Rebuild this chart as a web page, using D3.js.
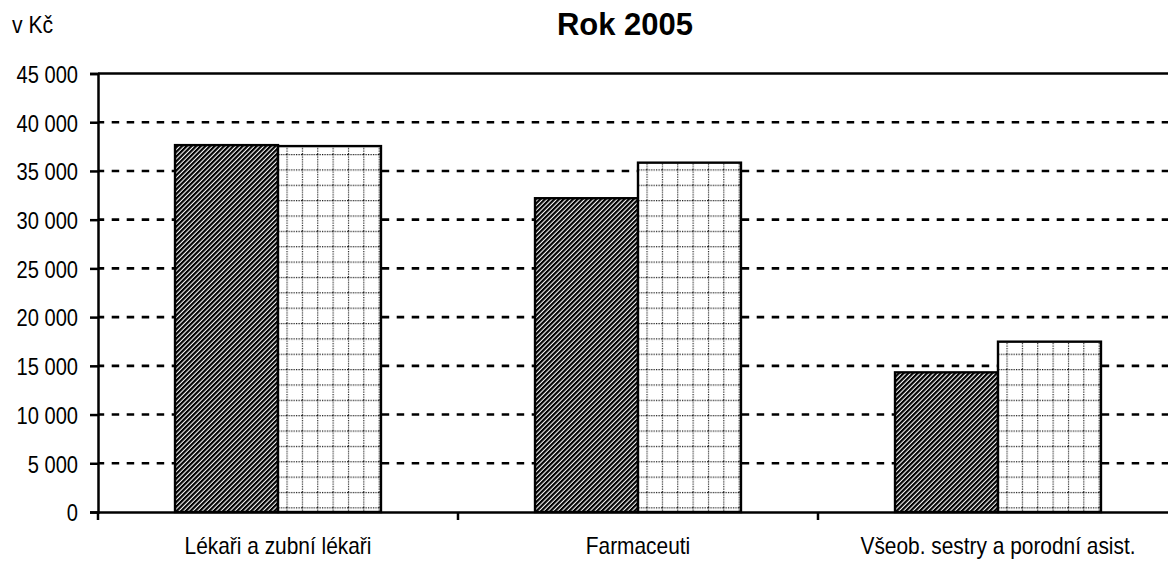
<!DOCTYPE html>
<html>
<head>
<meta charset="utf-8">
<script src="https://cdn.jsdelivr.net/npm/d3@7"></script>
<style>
  body { margin: 0; background: #fff; }
  text { fill: #000; }
</style>
</head>
<body>
<svg id="chart"></svg>
<script>
// data
var categories = ["Lékaři a zubní lékaři", "Farmaceuti", "Všeob. sestry a porodní asist."];
var seriesNames = ["Řada 1", "Řada 2"];
var series1 = [37650, 32200, 14330];
var series2 = [37550, 35850, 17480];
var yTicks = [0, 5000, 10000, 15000, 20000, 25000, 30000, 35000, 40000, 45000];

var width = 1168;
var height = 562;
var plotLeft = 98, plotRight = 1178, plotTop = 73.5, plotBottom = 512;

var svg = d3.select("#chart").attr("width", width).attr("height", height);

var defs = svg.append("defs");

// diagonal hatch for first series
var hatch = defs.append("pattern")
    .attr("id", "hatch")
    .attr("patternUnits", "userSpaceOnUse")
    .attr("width", 3.3)
    .attr("height", 10)
    .attr("patternTransform", "rotate(45)");
hatch.append("rect").attr("width", 3.3).attr("height", 10).attr("fill", "#fff");
hatch.append("rect").attr("width", 2.2).attr("height", 10).attr("fill", "#000");

// dotted grid for second series
var cell = 15.36;
var grid = defs.append("pattern")
    .attr("id", "grid")
    .attr("patternUnits", "userSpaceOnUse")
    .attr("x", 296 % cell)
    .attr("y", 154 % cell)
    .attr("width", cell)
    .attr("height", cell);
grid.append("rect").attr("width", cell).attr("height", cell).attr("fill", "#fff");
grid.append("line")
    .attr("x1", 0.5).attr("y1", 0).attr("x2", 0.5).attr("y2", cell)
    .style("stroke", "#111").style("stroke-width", 1.2).style("stroke-dasharray", "1.2,1.2");
grid.append("line")
    .attr("x1", 0).attr("y1", 0.5).attr("x2", cell).attr("y2", 0.5)
    .style("stroke", "#111").style("stroke-width", 1.2).style("stroke-dasharray", "1.2,1.2");

var x0 = d3.scaleBand().domain(categories).range([plotLeft, plotRight]).padding(0);
var x1 = d3.scaleBand().domain(seriesNames).range([0, x0.bandwidth()]).paddingInner(0).paddingOuter(0.748);
var y = d3.scaleLinear().domain([0, 45000]).range([plotBottom, plotTop]);

var fmt = d3.formatLocale({ decimal: ",", thousands: " ", grouping: [3], currency: ["", " Kč"] }).format(",d");

var font = "'Liberation Sans', Arial, sans-serif";

// squeeze text horizontally, the original uses a narrow face
function narrow(sel, k) {
    sel.each(function () {
        var w = this.getComputedTextLength();
        d3.select(this)
            .attr("textLength", w * k)
            .attr("lengthAdjust", "spacingAndGlyphs");
    });
}

// gridlines
svg.append("g")
    .selectAll("line")
    .data(yTicks.filter(function (d) { return d > 0 && d < 45000; }))
    .enter().append("line")
    .attr("x1", plotLeft).attr("x2", plotRight)
    .attr("y1", function (d) { return y(d); })
    .attr("y2", function (d) { return y(d); })
    .style("stroke", "#000")
    .style("stroke-width", 2.6)
    .style("stroke-dasharray", "7.5,7.5")
    .style("stroke-dashoffset", 1.3);

// top border
svg.append("line")
    .attr("x1", plotLeft).attr("x2", plotRight)
    .attr("y1", y(45000)).attr("y2", y(45000))
    .style("stroke", "#000").style("stroke-width", 2.6);

// bars
var rows = categories.map(function (c, i) {
    return { cat: c, values: [series1[i], series2[i]] };
});
var groups = svg.append("g").selectAll("g")
    .data(rows)
    .enter().append("g")
    .attr("transform", function (d) { return "translate(" + x0(d.cat) + ",0)"; });

groups.selectAll("rect")
    .data(function (d) {
        return d.values.map(function (v, j) { return { name: seriesNames[j], value: v, j: j }; });
    })
    .enter().append("rect")
    .attr("x", function (d) { return x1(d.name); })
    .attr("width", x1.bandwidth())
    .attr("y", function (d) { return y(d.value); })
    .attr("height", function (d) { return y(0) - y(d.value); })
    .attr("fill", function (d) { return d.j === 0 ? "url(#hatch)" : "url(#grid)"; })
    .style("stroke", "#000")
    .style("stroke-width", 2.4);

// y axis
var yAxis = svg.append("g")
    .attr("transform", "translate(" + plotLeft + ",0)")
    .call(d3.axisLeft(y).tickValues(yTicks).tickSize(8).tickPadding(12).tickFormat(fmt));
yAxis.select(".domain").style("stroke", "#000").style("stroke-width", 2.5);
yAxis.selectAll(".tick line").style("stroke", "#000").style("stroke-width", 2.5);
yAxis.selectAll(".tick text")
    .style("font-family", font)
    .style("font-size", "24.5px")
    .attr("dy", "0.36em")
    .call(narrow, 0.82);

// x axis
var xAxis = svg.append("g")
    .attr("transform", "translate(0," + plotBottom + ")")
    .call(d3.axisBottom(x0).tickSize(0).tickPadding(25));
xAxis.select(".domain").style("stroke", "#000").style("stroke-width", 2.5);
xAxis.selectAll(".tick text")
    .style("font-family", font)
    .style("font-size", "24px")
    .call(narrow, 0.87);

// category separators
svg.append("g")
    .selectAll("line")
    .data(d3.range(categories.length + 1))
    .enter().append("line")
    .attr("x1", function (d) { return plotLeft + d * x0.step(); })
    .attr("x2", function (d) { return plotLeft + d * x0.step(); })
    .attr("y1", plotBottom)
    .attr("y2", plotBottom + 8)
    .style("stroke", "#000")
    .style("stroke-width", 2.5);

// title and unit
svg.append("text")
    .attr("x", 625).attr("y", 35)
    .attr("text-anchor", "middle")
    .style("font-family", font)
    .style("font-weight", "bold")
    .style("font-size", "31px")
    .text("Rok 2005");

svg.append("text")
    .attr("x", 12).attr("y", 33)
    .style("font-family", font)
    .style("font-size", "23px")
    .text("v Kč")
    .call(narrow, 0.92);
</script>
</body>
</html>
